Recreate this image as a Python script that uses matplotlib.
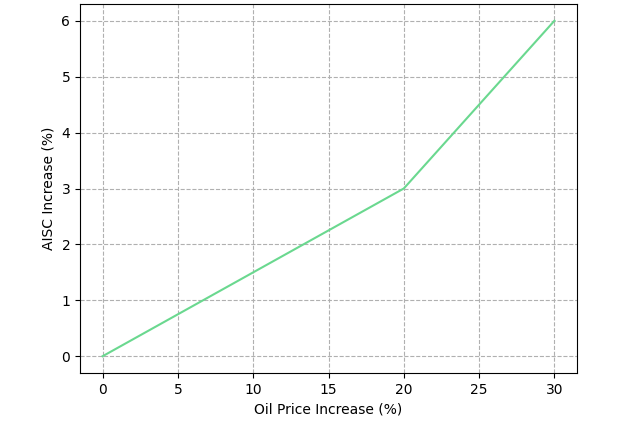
import matplotlib
matplotlib.use('Agg')
import matplotlib.pyplot as plt

# 数据
oil_increase = [0, 10, 20, 30]
aisc_increase = [0, 1.5, 3, 6]

fig = plt.figure(figsize=(6.4, 4.26), dpi=100)
ax = fig.add_axes([80 / 640, (426 - 373) / 426, (577 - 80) / 640, (373 - 4) / 426])

ax.plot(oil_increase, aisc_increase, color='#6ad88f', linewidth=1.5)
ax.set_xlabel('Oil Price Increase (%)')
ax.set_ylabel('AISC Increase (%)')
ax.grid(True, linestyle='--', color='#b0b0b0')

fig.savefig('out.png', dpi=100)
